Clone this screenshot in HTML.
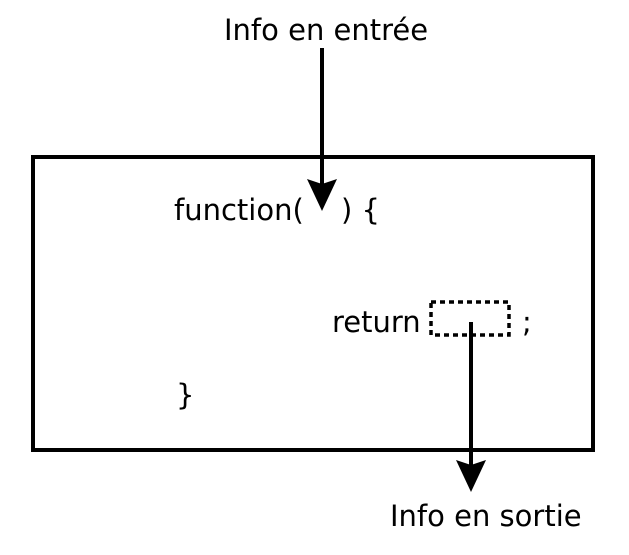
<!DOCTYPE html>
<html><head><meta charset="utf-8"><style>
html,body{margin:0;padding:0;background:#fff;width:629px;height:555px;overflow:hidden}
</style></head><body>
<svg width="629" height="555" viewBox="0 0 629 555" xmlns="http://www.w3.org/2000/svg" font-family="DejaVu Sans, Liberation Sans, sans-serif" font-size="29">
<rect x="33" y="157" width="560" height="293" fill="none" stroke="#000" stroke-width="4"/>
<text x="224" y="40" font-size="29" style="font-size:29px">Info en entrée</text>
<line x1="322" y1="48" x2="322" y2="185" stroke="#000" stroke-width="4"/>
<polygon points="307,179 322,184 337,179 322,211" fill="#000"/>
<text x="174" y="220" style="font-size:29px">function(</text>
<text x="341" y="220" style="font-size:29px">) {</text>
<text x="332" y="332" style="font-size:29px">return</text>
<rect x="431" y="302" width="78" height="33" fill="none" stroke="#000" stroke-width="3.5" stroke-dasharray="5,4"/>
<text x="522" y="332" style="font-size:29px">;</text>
<text x="176" y="405" style="font-size:29px">}</text>
<line x1="471" y1="322" x2="471" y2="468" stroke="#000" stroke-width="4"/>
<polygon points="456,460 471,465 486,460 471,492" fill="#000"/>
<text x="390" y="526" style="font-size:29px">Info en sortie</text>
</svg>
</body></html>
